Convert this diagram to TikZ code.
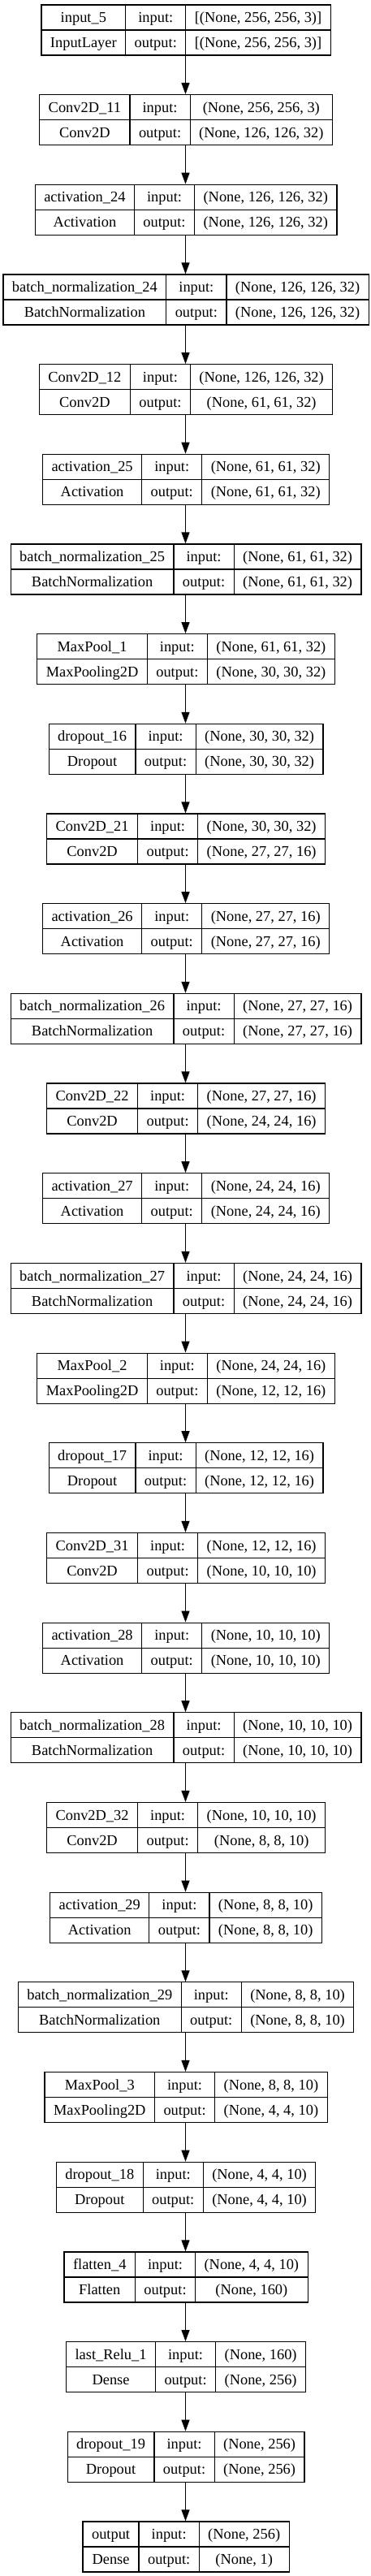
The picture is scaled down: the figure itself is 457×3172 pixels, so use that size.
\documentclass[tikz,border=0pt]{standalone}
\usepackage{fontspec}
\setmainfont{Liberation Serif}
\usetikzlibrary{arrows.meta}
\newlength\lwA \newlength\lwB \newlength\lwC \newlength\lwS \newlength\lwT
\newcommand\lfont{\fontsize{18.4}{22}\selectfont}
\newcommand\mw[2]{\pgfinterruptpicture\settowidth\lwT{\normalfont\lfont #2}\global#1=\lwT\relax\endpgfinterruptpicture}
\tikzset{
  cellbox/.style={draw=black, line width=1.2pt, inner sep=0pt, minimum height=31pt,
    text height=12.2pt, text depth=0pt, font=\lfont, anchor=north west},
  outerbox/.style={draw=none, inner sep=0pt, minimum height=62pt, anchor=north},
  arr/.style={line width=1.3pt, -{Triangle[length=14pt,width=10pt]}}
}
% #1 id, #2 index, #3 name, #4 class, #5 input, #6 output
\newcommand\mklayer[6]{%
  \mw\lwA{#3}\mw\lwS{#4}\ifdim\lwS>\lwA \lwA=\lwS\fi
  \advance\lwA by 22pt
  \mw\lwB{output:}\advance\lwB by 22pt
  \mw\lwC{#5}\mw\lwS{#6}\ifdim\lwS>\lwC \lwC=\lwS\fi
  \advance\lwC by 22pt
  \pgfmathsetmacro\lW{\lwA+\lwB+\lwC}
  \pgfmathsetmacro\lT{5.3+#2*110.68}
  \pgfmathsetmacro\lX{228.5-\lW/2}
  \pgfmathsetmacro\lXb{\lX+\lwA}
  \pgfmathsetmacro\lXc{\lXb+\lwB}
  \pgfmathsetmacro\lM{\lT+31}
  \node[outerbox, minimum width=\lW pt] (#1) at (228.5,\lT) {};
  \node[cellbox, minimum width=\lwA] (#1-n) at (\lX,\lT) {#3};
  \node[cellbox, minimum width=\lwA] (#1-c) at (\lX,\lM) {#4};
  \node[cellbox, minimum width=\lwB] (#1-il) at (\lXb,\lT) {input:};
  \node[cellbox, minimum width=\lwB] (#1-ol) at (\lXb,\lM) {output:};
  \node[cellbox, minimum width=\lwC] (#1-iv) at (\lXc,\lT) {#5};
  \node[cellbox, minimum width=\lwC] (#1-ov) at (\lXc,\lM) {#6};
}
\begin{document}
\begin{tikzpicture}[x=1pt,y=-1pt]
\useasboundingbox (0,0) rectangle (457,3172);
\mklayer{L0}{0}{input\_5}{InputLayer}{[(None, 256, 256, 3)]}{[(None, 256, 256, 3)]}
\mklayer{L1}{1}{Conv2D\_11}{Conv2D}{(None, 256, 256, 3)}{(None, 126, 126, 32)}
\mklayer{L2}{2}{activation\_24}{Activation}{(None, 126, 126, 32)}{(None, 126, 126, 32)}
\mklayer{L3}{3}{batch\_normalization\_24}{BatchNormalization}{(None, 126, 126, 32)}{(None, 126, 126, 32)}
\mklayer{L4}{4}{Conv2D\_12}{Conv2D}{(None, 126, 126, 32)}{(None, 61, 61, 32)}
\mklayer{L5}{5}{activation\_25}{Activation}{(None, 61, 61, 32)}{(None, 61, 61, 32)}
\mklayer{L6}{6}{batch\_normalization\_25}{BatchNormalization}{(None, 61, 61, 32)}{(None, 61, 61, 32)}
\mklayer{L7}{7}{MaxPool\_1}{MaxPooling2D}{(None, 61, 61, 32)}{(None, 30, 30, 32)}
\mklayer{L8}{8}{dropout\_16}{Dropout}{(None, 30, 30, 32)}{(None, 30, 30, 32)}
\mklayer{L9}{9}{Conv2D\_21}{Conv2D}{(None, 30, 30, 32)}{(None, 27, 27, 16)}
\mklayer{L10}{10}{activation\_26}{Activation}{(None, 27, 27, 16)}{(None, 27, 27, 16)}
\mklayer{L11}{11}{batch\_normalization\_26}{BatchNormalization}{(None, 27, 27, 16)}{(None, 27, 27, 16)}
\mklayer{L12}{12}{Conv2D\_22}{Conv2D}{(None, 27, 27, 16)}{(None, 24, 24, 16)}
\mklayer{L13}{13}{activation\_27}{Activation}{(None, 24, 24, 16)}{(None, 24, 24, 16)}
\mklayer{L14}{14}{batch\_normalization\_27}{BatchNormalization}{(None, 24, 24, 16)}{(None, 24, 24, 16)}
\mklayer{L15}{15}{MaxPool\_2}{MaxPooling2D}{(None, 24, 24, 16)}{(None, 12, 12, 16)}
\mklayer{L16}{16}{dropout\_17}{Dropout}{(None, 12, 12, 16)}{(None, 12, 12, 16)}
\mklayer{L17}{17}{Conv2D\_31}{Conv2D}{(None, 12, 12, 16)}{(None, 10, 10, 10)}
\mklayer{L18}{18}{activation\_28}{Activation}{(None, 10, 10, 10)}{(None, 10, 10, 10)}
\mklayer{L19}{19}{batch\_normalization\_28}{BatchNormalization}{(None, 10, 10, 10)}{(None, 10, 10, 10)}
\mklayer{L20}{20}{Conv2D\_32}{Conv2D}{(None, 10, 10, 10)}{(None, 8, 8, 10)}
\mklayer{L21}{21}{activation\_29}{Activation}{(None, 8, 8, 10)}{(None, 8, 8, 10)}
\mklayer{L22}{22}{batch\_normalization\_29}{BatchNormalization}{(None, 8, 8, 10)}{(None, 8, 8, 10)}
\mklayer{L23}{23}{MaxPool\_3}{MaxPooling2D}{(None, 8, 8, 10)}{(None, 4, 4, 10)}
\mklayer{L24}{24}{dropout\_18}{Dropout}{(None, 4, 4, 10)}{(None, 4, 4, 10)}
\mklayer{L25}{25}{flatten\_4}{Flatten}{(None, 4, 4, 10)}{(None, 160)}
\mklayer{L26}{26}{last\_Relu\_1}{Dense}{(None, 160)}{(None, 256)}
\mklayer{L27}{27}{dropout\_19}{Dropout}{(None, 256)}{(None, 256)}
\mklayer{L28}{28}{output}{Dense}{(None, 256)}{(None, 1)}
\foreach \a [evaluate=\a as \b using int(\a+1)] in {0,...,27}
  \draw[arr] (L\a.south) -- (L\b.north);
\end{tikzpicture}
\end{document}
